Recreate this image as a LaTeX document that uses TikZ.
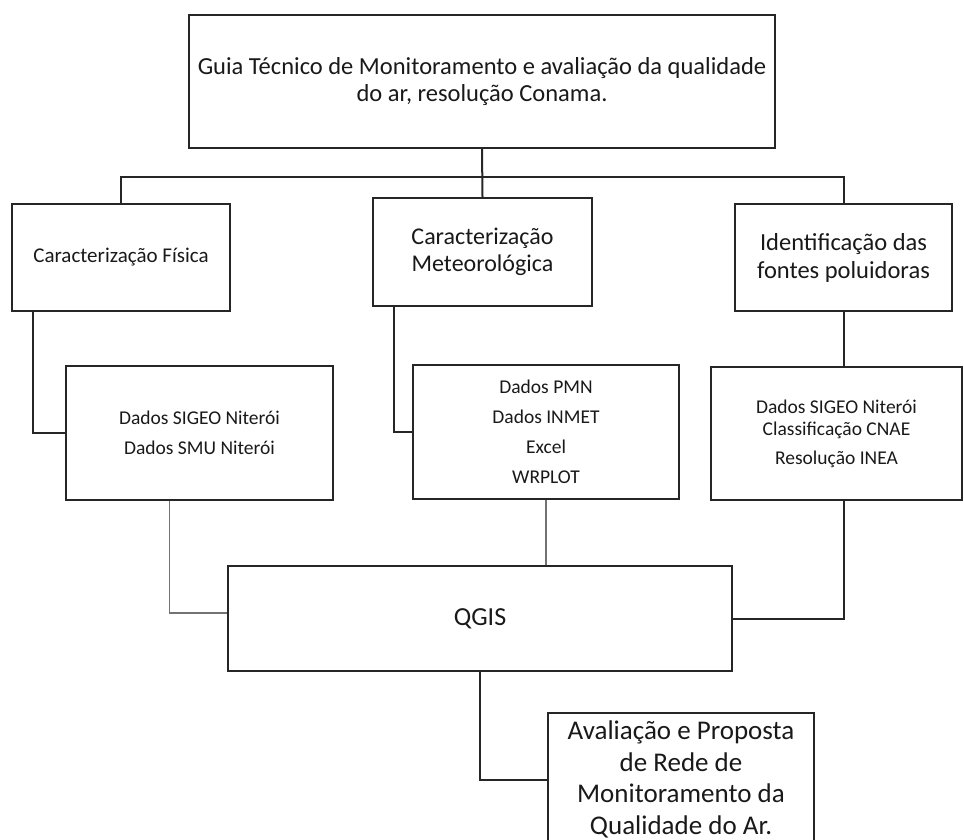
\documentclass[tikz,border=0pt]{standalone}
\usepackage{fontspec}
\setmainfont{Carlito}
\usetikzlibrary{positioning, calc}

\tikzset{
    box/.style={draw=black!85, line width=2.2pt, rectangle, align=center, inner sep=0pt, text=black!90},
    link/.style={draw=black!85, line width=2pt},
    greylink/.style={draw=black!55, line width=1.3pt},
}

\begin{document}
\begin{tikzpicture}[x=1pt, y=-1pt]
    \useasboundingbox (0,0) rectangle (964,840);

    % Top box
    \node[box, minimum width=586pt, minimum height=133pt, font=\fontsize{24.5}{27}\selectfont] (guia) at (482,81.5)
        {Guia Técnico de Monitoramento e avaliação da qualidade\\do ar, resolução Conama.};
    \coordinate (bus) at (482,177);

    % Three branches
    \node[box, minimum width=218pt, minimum height=107pt, font=\fontsize{21}{25}\selectfont] (fisica) at (121,257.5)
        {Caracterização Física};
    \node[box, minimum width=219pt, minimum height=108pt, font=\fontsize{24}{27}\selectfont] (meteo) at (482.5,252)
        {Caracterização\\Meteorológica};
    \node[box, minimum width=217pt, minimum height=107pt, font=\fontsize{24.5}{28}\selectfont] (fontes) at (843.5,257.5)
        {Identificação das\\fontes poluidoras};

    % Data boxes
    \node[box, minimum width=267pt, minimum height=134pt, font=\fontsize{19.5}{30}\selectfont] (dadosfis) at (199.5,433)
        {Dados SIGEO Niterói\\Dados SMU Niterói};
    \node[box, minimum width=266pt, minimum height=134pt, font=\fontsize{19.5}{30}\selectfont] (dadosmet) at (546,432)
        {Dados PMN\\Dados INMET\\Excel\\WRPLOT};
    \node[box, minimum width=251pt, minimum height=133pt, font=\fontsize{19.5}{22}\selectfont] (dadosfon) at (836.5,433.5)
        {Dados SIGEO Niterói\\Classificação CNAE\\[7pt]Resolução INEA};

    % QGIS and result
    \node[box, minimum width=504pt, minimum height=105pt, font=\fontsize{26}{30}\selectfont] (qgis) at (480,618.5) {QGIS};
    \node[box, minimum width=266pt, minimum height=133pt, font=\fontsize{27}{31.7}\selectfont] (rede) at (681,779.5)
        {Avaliação e Proposta\\de Rede de\\Monitoramento da\\Qualidade do Ar.};

    % Connectors
    \draw[link] (guia.south) -- (meteo.north);
    \draw[link] (fisica.north) -- (fisica.north |- bus) -- (fontes.north |- bus) -- (fontes.north);
    \draw[link] ([xshift=22pt]fisica.south west) |- (dadosfis.west);
    \draw[link] ([xshift=22pt]meteo.south west) |- (dadosmet.west);
    \draw[link] (fontes.south) -- (fontes.south |- dadosfon.north);
    \draw[greylink] ([xshift=-30pt]dadosfis.south) |- ([yshift=5.5pt]qgis.west);
    \draw[greylink] (dadosmet.south) -- (dadosmet.south |- qgis.north);
    \draw[link] (fontes.south |- dadosfon.south) |- (qgis.east);
    \draw[link] (qgis.south) |- (rede.west);
\end{tikzpicture}
\end{document}
